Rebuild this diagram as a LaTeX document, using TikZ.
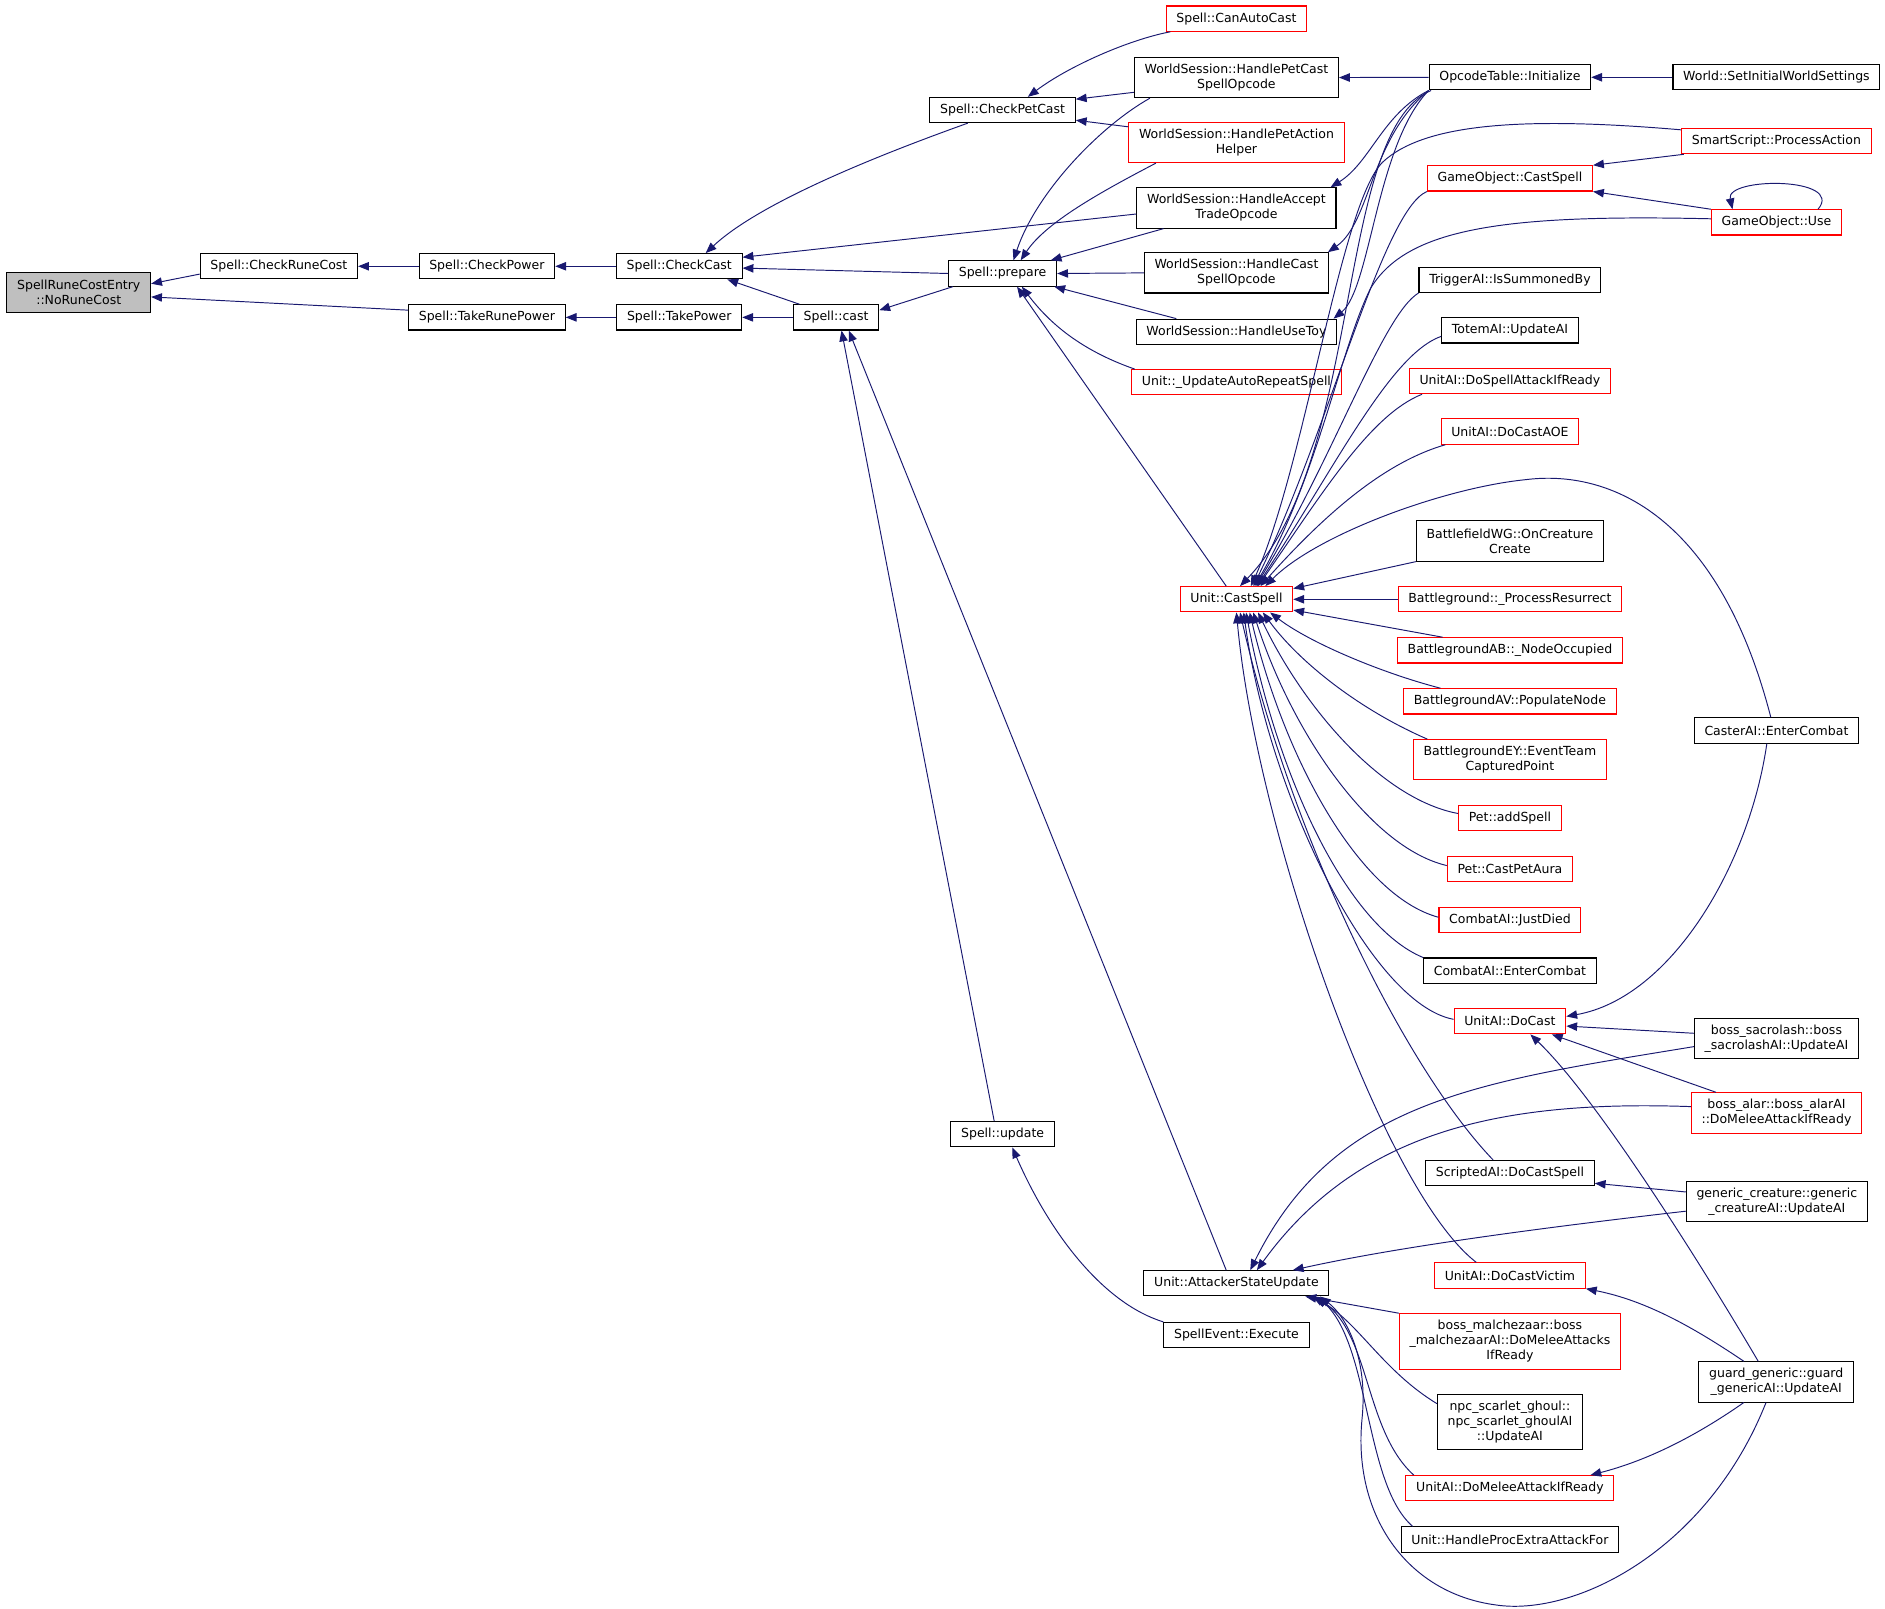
\documentclass[tikz,border=0pt]{standalone}
\usepackage{fontspec}
\newfontfamily\dotfont{DejaVu Sans}
\usetikzlibrary{arrows.meta}
\definecolor{edgeblue}{HTML}{191970}
\definecolor{rootgray}{HTML}{BFBFBF}

\begin{document}
\begin{tikzpicture}[x=1pt, y=-1pt, >={Triangle[length=9pt,width=7pt]},
	func/.style={draw=black, fill=white, line width=0.9pt, inner xsep=8.5pt, inner ysep=2pt,
		minimum height=21pt, align=center, font=\dotfont\fontsize{10.4}{12.5}\selectfont},
	trunc/.style={func, draw=red},
	focus/.style={func, fill=rootgray},
	two/.style={minimum height=33.5pt},
	three/.style={minimum height=46pt},
	call/.style={->, color=edgeblue, line width=0.8pt}]
	\useasboundingbox (0,0) rectangle (1568,1337.6);

	% Nodes {callee on the left, callers to the right}
	\node [focus, two]	(nrc) at (65.5,243.5)	{SpellRuneCostEntry\\::NoRuneCost};
	\node [func]		(crc) at (232,221.5)	{Spell::CheckRuneCost};
	\node [func]		(cpw) at (405,221.5)	{Spell::CheckPower};
	\node [func]		(trp) at (405,264)	{Spell::TakeRunePower};
	\node [func]		(cck) at (565,221.5)	{Spell::CheckCast};
	\node [func]		(tpw) at (565,264)	{Spell::TakePower};
	\node [func]		(cst) at (695.5,264)	{Spell::cast};
	\node [func]		(cpc) at (834,91.5)	{Spell::CheckPetCast};
	\node [func]		(prp) at (834,227.5)	{Spell::prepare};
	\node [func]		(upd) at (834,943.5)	{Spell::update};

	\node [trunc]		(cac) at (1028.5,15.5)	{Spell::CanAutoCast};
	\node [func, two]	(hpc) at (1028.5,64.5)	{WorldSession::HandlePetCast\\SpellOpcode};
	\node [trunc, two]	(hpa) at (1028.5,118.5)	{WorldSession::HandlePetAction\\Helper};
	\node [func, two]	(hat) at (1028.5,173)	{WorldSession::HandleAccept\\TradeOpcode};
	\node [func, two]	(hcs) at (1028.5,227)	{WorldSession::HandleCast\\SpellOpcode};
	\node [func]		(hut) at (1028.5,276)	{WorldSession::HandleUseToy};
	\node [trunc]		(uar) at (1028.5,318)	{Unit::\_UpdateAutoRepeatSpell};
	\node [trunc]		(ucs) at (1028.5,498.5)	{Unit::CastSpell};
	\node [func]		(asu) at (1028.5,1067.5)	{Unit::AttackerStateUpdate};
	\node [func]		(sev) at (1028.5,1110.5)	{SpellEvent::Execute};

	\node [func]		(oti) at (1256,64.3)	{OpcodeTable::Initialize};
	\node [trunc]		(gcs) at (1256,148.4)	{GameObject::CastSpell};
	\node [func]		(tis) at (1256,232.8)	{TriggerAI::IsSummonedBy};
	\node [func]		(tua) at (1256,274.8)	{TotemAI::UpdateAI};
	\node [trunc]		(dsa) at (1256,317)	{UnitAI::DoSpellAttackIfReady};
	\node [trunc]		(dca) at (1256,359)	{UnitAI::DoCastAOE};
	\node [func, two]	(bwg) at (1256,450)	{BattlefieldWG::OnCreature\\Create};
	\node [trunc]		(bpr) at (1256,498.5)	{Battleground::\_ProcessResurrect};
	\node [trunc]		(bab) at (1256,541)	{BattlegroundAB::\_NodeOccupied};
	\node [trunc]		(bav) at (1256,583.4)	{BattlegroundAV::PopulateNode};
	\node [trunc, two]	(bey) at (1256,632)	{BattlegroundEY::EventTeam\\CapturedPoint};
	\node [trunc]		(pas) at (1256,680.7)	{Pet::addSpell};
	\node [trunc]		(ppa) at (1256,723)	{Pet::CastPetAura};
	\node [trunc]		(cjd) at (1256,765)	{CombatAI::JustDied};
	\node [func]		(cec) at (1256,807.4)	{CombatAI::EnterCombat};
	\node [trunc]		(udc) at (1256,849.5)	{UnitAI::DoCast};
	\node [func]		(sdc) at (1256,975.8)	{ScriptedAI::DoCastSpell};
	\node [trunc]		(dcv) at (1256,1061)	{UnitAI::DoCastVictim};
	\node [trunc, three]	(bmz) at (1256,1115.8)	{boss\_malchezaar::boss\\\_malchezaarAI::DoMeleeAttacks\\IfReady};
	\node [func, three]	(nsg) at (1256,1183)	{npc\_scarlet\_ghoul::\\npc\_scarlet\_ghoulAI\\::UpdateAI};
	\node [trunc]		(dma) at (1256,1238)	{UnitAI::DoMeleeAttackIfReady};
	\node [func]		(hpe) at (1256,1280.6)	{Unit::HandleProcExtraAttackFor};

	\node [func]		(wsi) at (1477.7,64.3)	{World::SetInitialWorldSettings};
	\node [trunc]		(spa) at (1477.7,117.4)	{SmartScript::ProcessAction};
	\node [trunc]		(gou) at (1477.7,185)	{GameObject::Use};
	\node [func]		(cae) at (1477.7,607.6)	{CasterAI::EnterCombat};
	\node [func, two]	(bsc) at (1477.7,864)	{boss\_sacrolash::boss\\\_sacrolashAI::UpdateAI};
	\node [trunc, two]	(bal) at (1477.7,925.8)	{boss\_alar::boss\_alarAI\\::DoMeleeAttackIfReady};
	\node [func, two]	(gcr) at (1478,999.5)	{generic\_creature::generic\\\_creatureAI::UpdateAI};
	\node [func, two]	(ggd) at (1477.5,1149.5)	{guard\_generic::guard\\\_genericAI::UpdateAI};

	% Paths {caller -> callee}
	\path [call] ([yshift=-6.5]crc.west) edge ([yshift=7.5]nrc.east);
	\path [call] ([yshift=6]trp.west) edge ([yshift=-3.5]nrc.east);
	\path [call] (cpw.west) edge (crc.east);
	\path [call] (cck.west) edge (cpw.east);
	\path [call] (tpw.west) edge (trp.east);
	\path [call] (cst.west) edge (tpw.east);

	\draw [call] ([xshift=-29]cpc.south) .. controls (700,140) and (625,175) .. ([xshift=22]cck.north);
	\path [call] ([yshift=-5]hat.west) edge ([yshift=7.5]cck.east);
	\path [call] (prp.west) edge ([yshift=-1.5]cck.east);
	\path [call] ([xshift=-30.5]cst.north) edge ([xshift=40]cck.south);
	\path [call] ([xshift=4]prp.south west) edge ([yshift=6]cst.east);
	\path [call] ([xshift=-7]upd.north) edge ([xshift=4.5]cst.south);
	\path [call] ([xshift=-8.5]asu.north) edge ([xshift=10.5]cst.south);

	\draw [call] ([xshift=-55]cac.south) .. controls (939,33) and (889,55) .. ([xshift=21]cpc.north);
	\path [call] ([yshift=-12.3]hpc.west) edge ([yshift=9]cpc.east);
	\path [call] ([yshift=13]hpa.west) edge ([yshift=-8.5]cpc.east);

	\draw [call] ([xshift=-72]hpc.south) .. controls (915,105) and (862,160) .. ([xshift=9]prp.north);
	\draw [call] ([xshift=-67]hpa.south) .. controls (915,160) and (870,185) .. ([xshift=15]prp.north);
	\path [call] ([xshift=-60.7]hat.south) edge ([xshift=40]prp.north);
	\path [call] (hcs.west) edge (prp.east);
	\path [call] ([xshift=-50]hut.north) edge ([xshift=43]prp.south);
	\draw [call] ([xshift=3]uar.north west) .. controls (895,290) and (870,265) .. ([xshift=16]prp.south);
	\path [call] ([xshift=-8.5]ucs.north) edge ([xshift=12]prp.south);

	\path [call] (oti.west) edge (hpc.east);
	\draw [call] (oti.south west) .. controls (1150,95) and (1140,135) .. ([xshift=-5]hat.north east);
	\draw [call] (oti.south west) .. controls (1140,115) and (1140,185) .. ([xshift=-1]hcs.north east);
	\draw [call] (oti.south west) .. controls (1145,120) and (1140,240) .. ([xshift=-3]hut.north east);
	\path [call] (wsi.west) edge (oti.east);
	\draw [call] ([xshift=2]oti.south west) .. controls (1110,110) and (1135,380) .. ([xshift=3]ucs.north);

	\path [call] ([xshift=-77]spa.south) edge (gcs.north east);
	\path [call] (gou.north west) edge (gcs.south east);
	\draw [call] ([xshift=-20]gou.north east) .. controls (1535,147) and (1435,147) .. ([xshift=18]gou.north west);

	\draw [call] ([yshift=9.4]spa.west) .. controls (1270,97) and (1185,102) .. (1150,135)
		.. controls (1115,170) and (1085,390) .. ([xshift=12]ucs.north);
	\draw [call] (gcs.south west) .. controls (1150,175) and (1105,360) .. ([xshift=14]ucs.north);
	\draw [call] ([yshift=3]gou.west) .. controls (1250,178) and (1170,190) .. (1140,240)
		.. controls (1115,290) and (1095,400) .. ([xshift=15]ucs.north);
	\draw [call] (tis.south west) .. controls (1150,262) and (1110,380) .. ([xshift=16]ucs.north);
	\draw [call] ([yshift=-5]tua.west) .. controls (1156,295) and (1110,390) .. ([xshift=17]ucs.north);
	\draw [call] ([xshift=11]dsa.south west) .. controls (1140,345) and (1100,410) .. ([xshift=18]ucs.north);
	\draw [call] ([xshift=4]dca.south west) .. controls (1150,385) and (1100,430) .. ([xshift=20]ucs.north);
	\draw [call] ([xshift=-4.7]cae.north) .. controls (1430,430) and (1340,390) .. (1269,399)
		.. controls (1200,406) and (1095,445) .. ([xshift=24]ucs.north);
	\path [call] (bwg.south west) edge ([yshift=-2]ucs.north east);
	\path [call] (bpr.west) edge (ucs.east);
	\path [call] ([xshift=38]bab.north west) edge ([yshift=2]ucs.south east);
	\draw [call] ([xshift=31]bav.north west) .. controls (1150,560) and (1090,535) .. ([xshift=28]ucs.south);
	\draw [call] ([xshift=12]bey.north west) .. controls (1130,590) and (1080,550) .. ([xshift=22]ucs.south);
	\draw [call] ([yshift=4]pas.west) .. controls (1150,665) and (1085,590) .. ([xshift=18]ucs.south);
	\draw [call] ([yshift=3]ppa.west) .. controls (1140,705) and (1075,610) .. ([xshift=14]ucs.south);
	\draw [call] ([yshift=2]cjd.west) .. controls (1130,745) and (1068,630) .. ([xshift=11]ucs.south);
	\draw [call] (cec.north west) .. controls (1120,770) and (1062,645) .. ([xshift=8]ucs.south);
	\draw [call] ([yshift=1.6]udc.west) .. controls (1140,835) and (1055,660) .. ([xshift=6]ucs.south);
	\draw [call] ([xshift=-14]sdc.north) .. controls (1170,890) and (1075,700) .. ([xshift=3]ucs.south);
	\draw [call] ([xshift=-28]dcv.north) .. controls (1150,990) and (1045,690) .. (ucs.south);

	\draw [call] ([xshift=-8]cae.south) .. controls (1455,720) and (1390,830) .. ([yshift=4]udc.east);
	\path [call] ([yshift=4.5]bsc.west) edge ([yshift=-4]udc.east);
	\path [call] ([xshift=21]bal.north west) edge ([xshift=-12]udc.south east);
	\draw [call] ([xshift=-15]ggd.north) .. controls (1420,1060) and (1330,915) .. ([xshift=17]udc.south);
	\path [call] ([yshift=8]gcr.west) edge ([yshift=-8.5]sdc.east);

	\draw [call] ([yshift=-8]gcr.west) .. controls (1250,1025) and (1150,1040) .. ([xshift=-30.5]asu.north east);
	\draw [call] ([yshift=-6.6]bsc.west) .. controls (1230,900) and (1110,915) .. ([xshift=11.5]asu.north);
	\draw [call] ([yshift=5.3]bal.west) .. controls (1250,915) and (1130,940) .. ([xshift=17]asu.north);
	\path [call] (bmz.north west) edge ([xshift=-20]asu.south east);
	\draw [call] ([yshift=-8]nsg.north west) .. controls (1150,1140) and (1130,1100) .. ([xshift=-14]asu.south east);
	\draw [call] ([xshift=7]dma.north west) .. controls (1135,1190) and (1140,1110) .. ([xshift=-12]asu.south east);
	\draw [call] ([xshift=10]hpe.north west) .. controls (1135,1235) and (1140,1120) .. ([xshift=-10]asu.south east);
	\draw [call] ([xshift=-8.5]ggd.south) .. controls (1420,1290) and (1310,1345) .. (1244,1335)
		.. controls (1170,1325) and (1125,1260) .. (1133,1180)
		.. controls (1138,1130) and (1120,1095) .. ([xshift=-8]asu.south east);
	\draw [call] ([xshift=-27]ggd.south) .. controls (1410,1195) and (1370,1215) .. ([xshift=-20]dma.north east);
	\draw [call] ([xshift=-27]ggd.north) .. controls (1410,1105) and (1370,1082) .. (dcv.south east);

	\draw [call] (sev.north west) .. controls (920,1085) and (875,1030) .. ([xshift=8]upd.south);
\end{tikzpicture}
\end{document}
